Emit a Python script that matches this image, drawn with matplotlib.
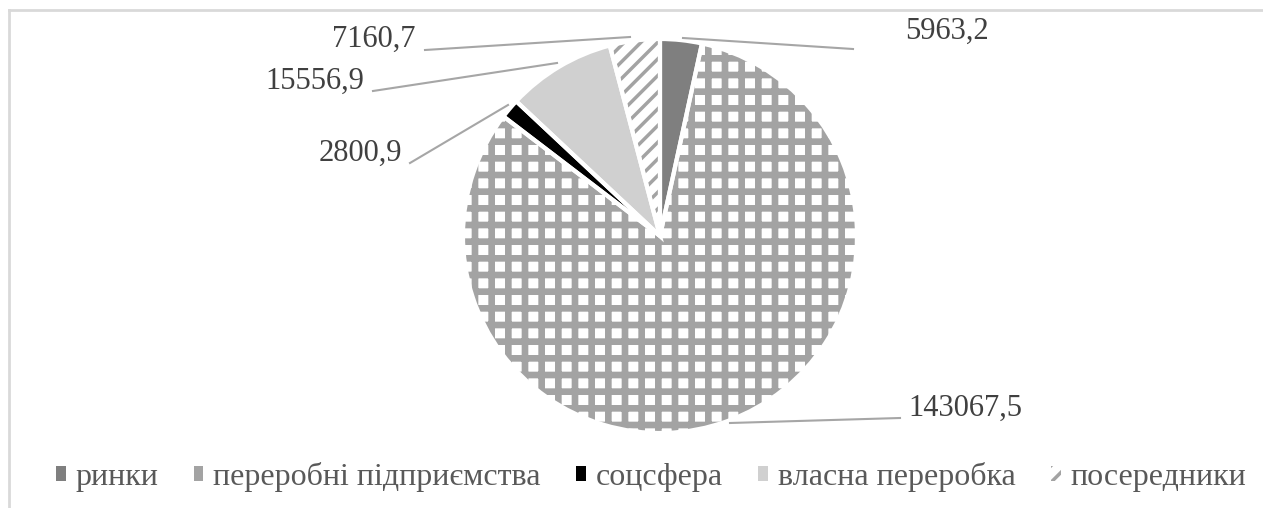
import matplotlib.pyplot as plt
from matplotlib.patches import Patch

plt.rcParams['font.family'] = ['Liberation Serif', 'DejaVu Serif']
plt.rcParams['hatch.linewidth'] = 2.5

# дані
categories = ['ринки', 'переробні підприємства', 'соцсфера', 'власна переробка', 'посередники']
values = [5963.2, 143067.5, 2800.9, 15556.9, 7160.7]
value_labels = ['5963,2', '143067,5', '2800,9', '15556,9', '7160,7']

colors = ['#7f7f7f', 'white', 'black', '#d0d0d0', 'white']
hatch_colors = ['#7f7f7f', '#a3a3a3', 'black', '#d0d0d0', '#a3a3a3']
hatches = [None, '+', None, None, '//']
hatch_lw = [None, 4.8, None, None, 2.5]

W, H = 1263, 508
fig = plt.figure(figsize=(W / 100, H / 100), dpi=100)
ax = fig.add_axes([0, 0, 1, 1])

def py(y):
    return H - y

cx, cy, r = 660, py(236), 197

wedges, _ = ax.pie(values, startangle=90, counterclock=False, colors=colors,
                   center=(cx, cy), radius=r,
                   wedgeprops=dict(linewidth=0))
for w, h, hc, hl in zip(wedges, hatches, hatch_colors, hatch_lw):
    if h:
        w.set_hatch(h)
        w.set_edgecolor(hc)
        w.set_linewidth(0)
        if hasattr(w, 'set_hatch_linewidth'):
            w.set_hatch_linewidth(hl)

# білі межі між секторами
ax.pie(values, startangle=90, counterclock=False, center=(cx, cy), radius=r,
       wedgeprops=dict(facecolor='none', edgecolor='white', linewidth=3))

ax.set_xlim(0, W)
ax.set_ylim(0, H)
ax.set_aspect('equal')
ax.axis('off')

# підписи та виноски
label_pos = [(947, 31), (965, 408), (360, 153), (315, 81), (374, 39)]
leader = [((683, 38), (853, 49)), ((730, 423), (900, 418)), ((508, 105), (410, 163)),
          ((557, 63), (373, 91)), ((630, 37), (425, 50))]
for txt, (tx, ty), (p0, p1) in zip(value_labels, label_pos, leader):
    ax.text(tx, py(ty), txt, fontsize=22, color='#404040', ha='center', va='center')
    ax.plot([p0[0], p1[0]], [py(p0[1]), py(p1[1])], color='#a6a6a6', lw=1.5)

# рамка (видно лише верхню та ліву лінії)
ax.plot([9, W], [py(10), py(10)], color='#d9d9d9', lw=2, clip_on=False)
ax.plot([9, 9], [py(10), 0], color='#d9d9d9', lw=2, clip_on=False)

# маркери легенди
handles = [
    Patch(facecolor='#7f7f7f', linewidth=0),
    Patch(facecolor='#a3a3a3', linewidth=0),
    Patch(facecolor='black', linewidth=0),
    Patch(facecolor='#d0d0d0', linewidth=0),
    Patch(facecolor='white', edgecolor='#a3a3a3', hatch='//', linewidth=0),
]
leg = ax.legend(handles, categories, loc='center', bbox_to_anchor=(651 / W, 1 - 477 / H),
                ncol=5, frameon=False, fontsize=23, handlelength=0.31, handleheight=0.31,
                handletextpad=0.31, columnspacing=1.1, labelcolor='#595959',
                borderpad=0, borderaxespad=0)

fig.savefig('out.png', dpi=100)
